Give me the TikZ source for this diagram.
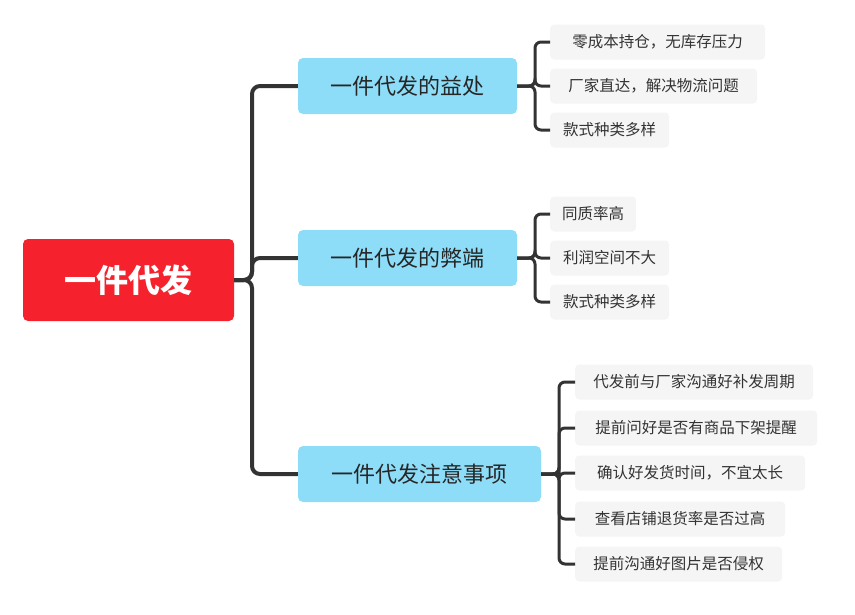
\documentclass[tikz,border=0pt]{standalone}
\usepackage{fontspec}
\setmainfont{Noto Sans CJK SC}
\definecolor{rootred}{HTML}{F5222D}
\definecolor{blue1}{HTML}{8EDDF8}
\definecolor{leafbg}{HTML}{F5F5F5}
\definecolor{line}{HTML}{333333}
\begin{document}
\begin{tikzpicture}[x=1pt,y=-1pt,
  rootbox/.style={fill=rootred,rounded corners=5pt,text=white,font=\fontsize{32}{36}\selectfont\bfseries,minimum width=211pt,minimum height=82pt,inner sep=0pt},
  branchbox/.style={fill=blue1,rounded corners=5pt,text=black!85,font=\fontsize{22}{26}\selectfont,minimum height=56pt,inner sep=0pt},
  leafbox/.style={fill=leafbg,rounded corners=4pt,text=black!80,font=\fontsize{15.5}{18}\selectfont,minimum height=35pt,inner sep=0pt,anchor=west,align=left},
  conn/.style={draw=line,line width=4pt,rounded corners=8pt},
  lconn/.style={draw=line,line width=3pt,rounded corners=6pt}]
\useasboundingbox (0,0) rectangle (855,614);
\node[rootbox] (root) at (128.5,280) {一件代发};
\node[branchbox,minimum width=219pt] (b1) at (407.5,86) {一件代发的益处};
\node[branchbox,minimum width=219pt] (b2) at (407.5,258) {一件代发的弊端};
\node[branchbox,minimum width=243pt] (b3) at (419.5,474) {一件代发注意事项};
\draw[conn] (root.east) -- (252,280) |- (b1.west);
\draw[conn] (root.east) -- (252,280) |- (b2.west);
\draw[conn] (root.east) -- (252,280) |- (b3.west);
\node[leafbox,minimum width=215pt] (l11) at (550,42) {零成本持仓，无库存压力};
\node[leafbox,minimum width=207pt] (l12) at (550,86) {厂家直达，解决物流问题};
\node[leafbox,minimum width=119pt] (l13) at (550,130) {款式种类多样};
\node[leafbox,minimum width=86pt] (l21) at (550,214) {同质率高};
\node[leafbox,minimum width=119pt] (l22) at (550,258) {利润空间不大};
\node[leafbox,minimum width=119pt] (l23) at (550,302) {款式种类多样};
\node[leafbox,minimum width=238pt] (l31) at (575,382) {代发前与厂家沟通好补发周期};
\node[leafbox,minimum width=242pt] (l32) at (575,428) {提前问好是否有商品下架提醒};
\node[leafbox,minimum width=230pt] (l33) at (575,473) {确认好发货时间，不宜太长};
\node[leafbox,minimum width=210pt] (l34) at (575,519) {查看店铺退货率是否过高};
\node[leafbox,minimum width=207pt] (l35) at (575,564) {提前沟通好图片是否侵权};
\foreach \l in {l11,l12,l13} \draw[lconn] (b1.east) -- (535,86) |- (\l.west);
\foreach \l in {l21,l22,l23} \draw[lconn] (b2.east) -- (535,258) |- (\l.west);
\foreach \l in {l31,l32,l33,l34,l35} \draw[lconn] (b3.east) -- (559,474) |- (\l.west);
\end{tikzpicture}
\end{document}
